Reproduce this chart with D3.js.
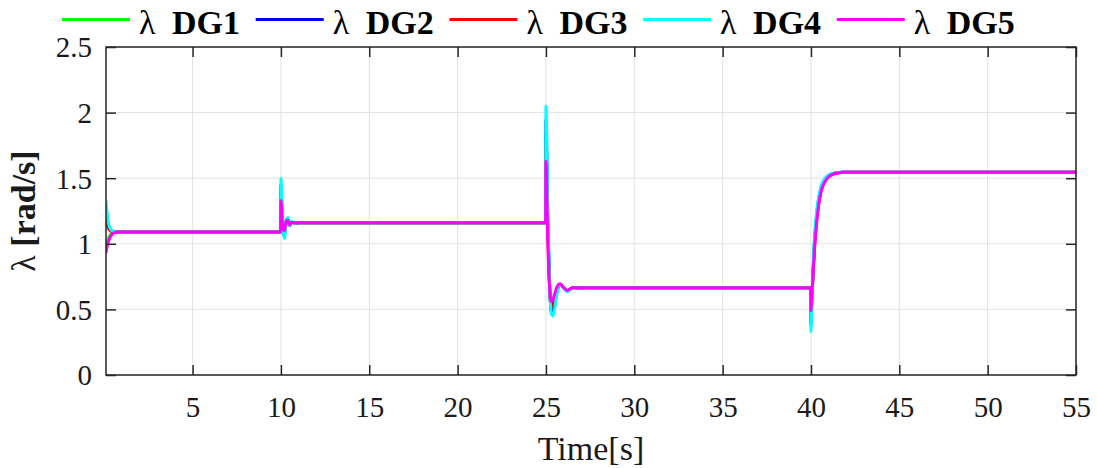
<!DOCTYPE html>
<html lang="en">
<head>
    <meta charset="UTF-8">
    <title>Lambda DG response</title>
    <style>
        body {
            margin: 0;
            padding: 0;
            background: #fff;
        }

        svg {
            display: block;
        }

        svg text {
            font-family: "Liberation Serif", "Times New Roman", serif;
        }

        .grid line {
            stroke: #e3e3e3;
            stroke-width: 1;
        }
    </style>
</head>
<body>
    <div id="chart"></div>
    <script src="https://d3js.org/d3.v7.min.js"></script>
    <script>
        // time samples (s), dense around the disturbances at 0, 10, 25 and 40 s
        const time = [
            0.1, 0.15, 0.2, 0.3, 0.4, 0.5, 0.6, 0.8, 1.0, 1.5,
            9.98,
            10.0, 10.05, 10.12, 10.2, 10.3, 10.4, 10.5, 10.6, 10.8, 11.0,
            24.98,
            25.0, 25.1, 25.2, 25.3, 25.4, 25.5, 25.6, 25.8, 26.0, 26.2, 26.4, 26.6, 26.8, 27.2, 28.0,
            39.98,
            40.0, 40.02, 40.1, 40.2, 40.3, 40.4, 40.5, 40.6, 40.8, 41.0, 41.2, 41.5, 41.8, 42.2, 43.0,
            55.0
        ];

        const dg1 = [
            0.98, 1.01, 1.03, 1.06, 1.075, 1.085, 1.088, 1.09, 1.09, 1.09,
            1.09,
            1.40, 1.26, 1.08, 1.07, 1.18, 1.19, 1.14, 1.165, 1.158, 1.16,
            1.16,
            1.85, 1.18, 0.70, 0.51, 0.51, 0.56, 0.63, 0.69, 0.667, 0.64, 0.658, 0.665, 0.663, 0.665, 0.665,
            0.665,
            0.42, 0.48, 0.73, 1.00, 1.17, 1.29, 1.37, 1.43, 1.488, 1.518, 1.531, 1.541, 1.545, 1.545, 1.545,
            1.545
        ];

        const dg2 = [
            1.27, 1.21, 1.16, 1.12, 1.10, 1.093, 1.09, 1.09, 1.09, 1.09,
            1.09,
            1.45, 1.30, 1.10, 1.06, 1.18, 1.19, 1.14, 1.165, 1.157, 1.16,
            1.16,
            1.95, 1.22, 0.71, 0.49, 0.48, 0.54, 0.62, 0.69, 0.666, 0.638, 0.657, 0.665, 0.663, 0.665, 0.665,
            0.665,
            0.38, 0.45, 0.74, 1.02, 1.19, 1.31, 1.38, 1.44, 1.493, 1.52, 1.533, 1.542, 1.545, 1.545, 1.545,
            1.545
        ];

        const dg3 = [
            1.20, 1.16, 1.13, 1.105, 1.095, 1.09, 1.09, 1.09, 1.09, 1.09,
            1.09,
            1.38, 1.25, 1.10, 1.08, 1.17, 1.185, 1.145, 1.165, 1.158, 1.16,
            1.16,
            1.75, 1.12, 0.69, 0.53, 0.54, 0.59, 0.64, 0.692, 0.667, 0.642, 0.659, 0.665, 0.664, 0.665, 0.665,
            0.665,
            0.45, 0.52, 0.72, 0.98, 1.15, 1.27, 1.36, 1.42, 1.48, 1.515, 1.529, 1.541, 1.545, 1.545, 1.545,
            1.545
        ];

        const dg4 = [
            1.33, 1.25, 1.19, 1.13, 1.105, 1.095, 1.092, 1.09, 1.09, 1.09,
            1.09,
            1.50, 1.35, 1.12, 1.04, 1.17, 1.20, 1.14, 1.17, 1.155, 1.16,
            1.16,
            2.05, 1.30, 0.72, 0.47, 0.45, 0.51, 0.60, 0.69, 0.665, 0.635, 0.655, 0.665, 0.662, 0.665, 0.665,
            0.665,
            0.33, 0.40, 0.75, 1.05, 1.22, 1.33, 1.40, 1.45, 1.50, 1.525, 1.535, 1.543, 1.545, 1.545, 1.545,
            1.545
        ];

        const dg5 = [
            0.93, 0.97, 1.00, 1.04, 1.065, 1.078, 1.085, 1.09, 1.09, 1.09,
            1.09,
            1.33, 1.22, 1.11, 1.10, 1.17, 1.18, 1.145, 1.165, 1.158, 1.16,
            1.16,
            1.63, 1.05, 0.68, 0.56, 0.58, 0.62, 0.665, 0.695, 0.668, 0.645, 0.66, 0.666, 0.664, 0.665, 0.665,
            0.665,
            0.49, 0.55, 0.72, 0.96, 1.13, 1.26, 1.35, 1.41, 1.475, 1.51, 1.527, 1.54, 1.545, 1.545, 1.545,
            1.545
        ];

        const seriesNames = ['DG1', 'DG2', 'DG3', 'DG4', 'DG5'];
        const seriesColors = ['#00ff00', '#0000ff', '#ff0000', '#00ffff', '#ff00ff'];
        const seriesValues = [dg1, dg2, dg3, dg4, dg5];

        const xTicks = [5, 10, 15, 20, 25, 30, 35, 40, 45, 50, 55];
        const yTicks = [0, 0.5, 1, 1.5, 2, 2.5];
        const yTickLabels = ['0', '0.5', '1', '1.5', '2', '2.5'];

        const width = 1097;
        const height = 468;
        const margin = { top: 47, right: 21, bottom: 93, left: 106 };
        const innerW = width - margin.left - margin.right;
        const innerH = height - margin.top - margin.bottom;
        const tickLen = 10;
        const axisColor = '#262626';
        const serif = '"Liberation Serif", "Times New Roman", serif';

        const svg = d3.select('#chart')
            .append('svg')
            .attr('width', width)
            .attr('height', height);

        const x = d3.scaleLinear().domain([0.1, 55]).range([0, innerW]);
        const y = d3.scaleLinear().domain([0, 2.5]).range([innerH, 0]);

        const plot = svg.append('g')
            .attr('transform', `translate(${margin.left},${margin.top})`);

        // grid
        const grid = plot.append('g').attr('class', 'grid');
        grid.selectAll('.gx')
            .data(xTicks)
            .enter().append('line')
            .attr('x1', d => x(d)).attr('x2', d => x(d))
            .attr('y1', 0).attr('y2', innerH);
        grid.selectAll('.gy')
            .data(yTicks)
            .enter().append('line')
            .attr('x1', 0).attr('x2', innerW)
            .attr('y1', d => y(d)).attr('y2', d => y(d));

        // series
        plot.append('clipPath')
            .attr('id', 'clip')
            .append('rect')
            .attr('width', innerW)
            .attr('height', innerH);

        const line = d3.line()
            .x(d => x(d[0]))
            .y(d => y(d[1]))
            .curve(d3.curveMonotoneX);

        plot.append('g')
            .attr('clip-path', 'url(#clip)')
            .selectAll('path')
            .data(seriesValues)
            .enter().append('path')
            .attr('d', vals => line(time.map((t, i) => [t, vals[i]])))
            .attr('fill', 'none')
            .attr('stroke', (d, i) => seriesColors[i])
            .attr('stroke-width', 3)
            .attr('stroke-linejoin', 'round');

        // axes with inward ticks on all four sides
        const xBottom = d3.axisBottom(x).tickValues(xTicks).tickSizeInner(-tickLen).tickSizeOuter(0).tickPadding(14);
        const xTop = d3.axisTop(x).tickValues(xTicks).tickSizeInner(-tickLen).tickSizeOuter(0).tickFormat('');
        const yLeft = d3.axisLeft(y).tickValues(yTicks).tickSizeInner(-tickLen).tickSizeOuter(0).tickPadding(14)
            .tickFormat((d, i) => yTickLabels[i]);
        const yRight = d3.axisRight(y).tickValues(yTicks).tickSizeInner(-tickLen).tickSizeOuter(0).tickFormat('');

        const gxb = plot.append('g').attr('transform', `translate(0,${innerH})`).call(xBottom);
        const gxt = plot.append('g').call(xTop);
        const gyl = plot.append('g').call(yLeft);
        const gyr = plot.append('g').attr('transform', `translate(${innerW},0)`).call(yRight);

        [gxb, gxt, gyl, gyr].forEach(g => {
            g.attr('font-family', null).attr('font-size', null);
            g.select('.domain').remove();
            g.selectAll('.tick line').attr('stroke', axisColor).attr('stroke-width', 1.5);
            g.selectAll('.tick text')
                .style('font-family', serif)
                .style('font-size', '29px')
                .attr('fill', '#1a1a1a');
        });
        gxb.selectAll('.tick text').attr('dy', '0.95em');
        gyl.selectAll('.tick text').attr('dy', '0.34em');

        plot.append('rect')
            .attr('width', innerW)
            .attr('height', innerH)
            .attr('fill', 'none')
            .attr('stroke', axisColor)
            .attr('stroke-width', 1.5);

        // axis labels
        svg.append('text')
            .attr('x', margin.left + innerW / 2)
            .attr('y', 460)
            .attr('text-anchor', 'middle')
            .style('font-family', serif)
            .style('font-size', '34px')
            .attr('fill', '#1a1a1a')
            .text('Time[s]');

        const yLabel = svg.append('text')
            .attr('transform', `translate(35,${margin.top + innerH / 2}) rotate(-90)`)
            .attr('text-anchor', 'middle')
            .style('font-family', serif)
            .style('font-size', '34px')
            .attr('fill', '#1a1a1a');
        yLabel.append('tspan').text('λ ');
        yLabel.append('tspan').attr('font-weight', 'bold').text('[rad/s]');

        // legend
        const legend = svg.append('g')
            .selectAll('g')
            .data(seriesNames)
            .enter().append('g')
            .attr('transform', (d, i) => `translate(${62 + i * 193.7},0)`);

        legend.append('line')
            .attr('x1', 0).attr('x2', 68)
            .attr('y1', 19.5).attr('y2', 19.5)
            .attr('stroke', (d, i) => seriesColors[i])
            .attr('stroke-width', 3);

        const legendText = legend.append('text')
            .attr('y', 34)
            .style('font-family', serif)
            .style('font-size', '34px')
            .attr('fill', '#000');
        legendText.append('tspan').attr('x', 77).text('λ');
        legendText.append('tspan').attr('x', 110).attr('font-weight', 'bold').text(d => d);
    </script>
</body>
</html>
